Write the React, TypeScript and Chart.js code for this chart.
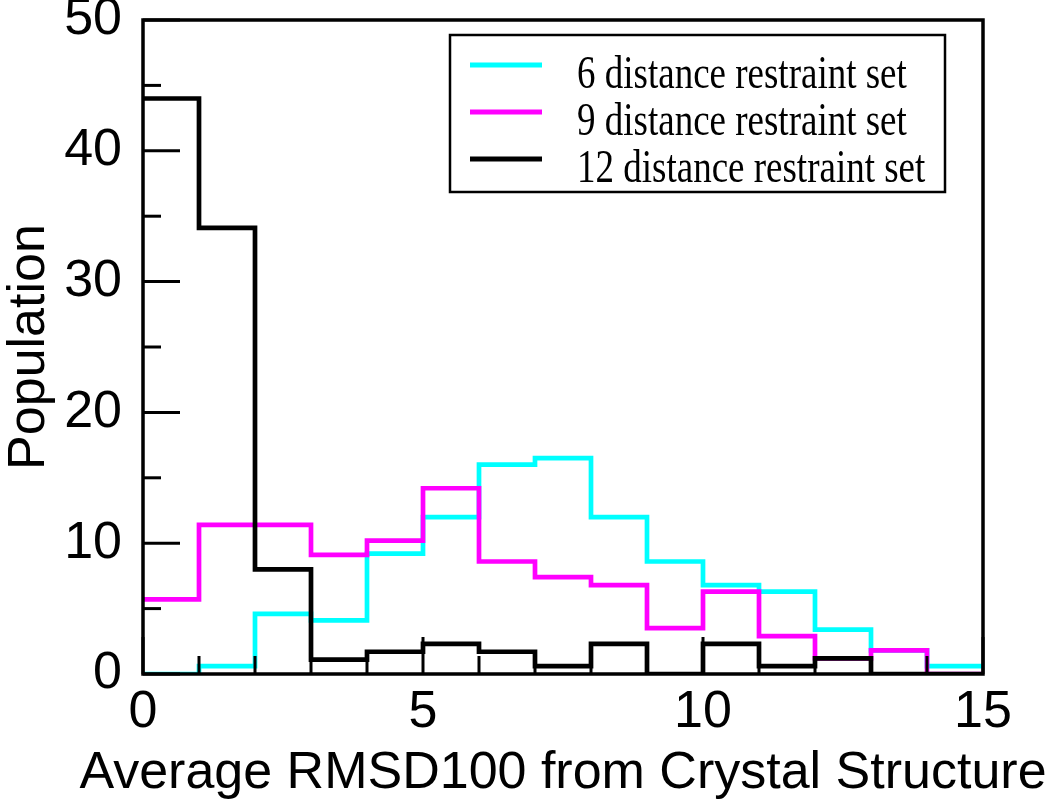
import React, { useEffect, useRef } from "react";
import { Chart, registerables } from "chart.js";

Chart.register(...registerables);

// Histogram bins (left edges) and last right edge
const binStarts = [0, 1, 2, 3, 4, 5, 6, 7, 8, 9, 10, 11, 12, 13, 14];
const binEnd = 15;

// Populations per bin
const set6 = [0, 0.6, 4.6, 4.1, 9.2, 12.0, 16.0, 16.5, 12.0, 8.6, 6.8, 6.3, 3.4, 1.8, 0.6];
const set9 = [5.7, 11.4, 11.4, 9.1, 10.2, 14.2, 8.6, 7.4, 6.8, 3.5, 6.3, 2.9, 1.2, 1.8, 0];
const set12 = [44, 34.1, 8, 1.1, 1.7, 2.3, 1.7, 0.6, 2.3, 0, 2.3, 0.6, 1.2, 0, 0];

const seriesLabels = ["6 distance restraint set", "9 distance restraint set", "12 distance restraint set"];
const seriesColors = ["#00FFFF", "#FF00FF", "#000000"];

// Axis ticks and titles
const xMajorTicks = [0, 5, 10, 15];
const xMinorStep = 1;
const yMajorTicks = [0, 10, 20, 30, 40, 50];
const yMinorStep = 5;
const xTitle = "Average RMSD100 from Crystal Structure";
const yTitle = "Population";

const SANS = "'Liberation Sans', Arial, Helvetica, sans-serif";
const SERIF = "'Liberation Serif', 'Times New Roman', serif";

const toPoints = (vals: number[]) => [
  ...binStarts.map((x, i) => ({ x, y: vals[i] })),
  { x: binEnd, y: vals[vals.length - 1] },
];

const framePlugin = {
  id: "frameTicks",
  afterDatasetsDraw(chart: any) {
    const { ctx, chartArea: a, scales } = chart;
    const x = scales.x;
    const y = scales.y;
    ctx.save();
    ctx.strokeStyle = "#000";
    ctx.lineCap = "butt";
    ctx.lineWidth = 3;
    const xMax = xMajorTicks[xMajorTicks.length - 1];
    for (let v = xMajorTicks[0]; v <= xMax; v += xMinorStep) {
      const px = x.getPixelForValue(v);
      const len = xMajorTicks.includes(v) ? 37 : 18;
      ctx.beginPath();
      ctx.moveTo(px, a.bottom);
      ctx.lineTo(px, a.bottom - len);
      ctx.stroke();
    }
    const yMax = yMajorTicks[yMajorTicks.length - 1];
    for (let v = yMajorTicks[0]; v <= yMax; v += yMinorStep) {
      const py = y.getPixelForValue(v);
      const len = yMajorTicks.includes(v) ? 37 : 18;
      ctx.beginPath();
      ctx.moveTo(a.left, py);
      ctx.lineTo(a.left + len, py);
      ctx.stroke();
    }
    ctx.lineWidth = 3.5;
    ctx.strokeRect(a.left, a.top, a.right - a.left, a.bottom - a.top);
    ctx.restore();
  },
};

const xTitlePlugin = {
  id: "xTitle",
  afterDraw(chart: any) {
    const { ctx, chartArea: a } = chart;
    ctx.save();
    ctx.fillStyle = "#000";
    ctx.font = `52px ${SANS}`;
    ctx.textAlign = "center";
    ctx.textBaseline = "alphabetic";
    ctx.fillText(xTitle, (a.left + a.right) / 2, 788);
    ctx.restore();
  },
};

const legendPlugin = {
  id: "boxLegend",
  afterDraw(chart: any) {
    const { ctx } = chart;
    const bx = 450, by = 35, bw = 495, bh = 157;
    ctx.save();
    ctx.fillStyle = "#fff";
    ctx.fillRect(bx, by, bw, bh);
    ctx.strokeStyle = "#000";
    ctx.lineWidth = 2.5;
    ctx.strokeRect(bx, by, bw, bh);
    chart.data.datasets.forEach((ds: any, i: number) => {
      const ly = 65 + i * 47;
      ctx.strokeStyle = ds.borderColor;
      ctx.lineWidth = 5;
      ctx.beginPath();
      ctx.moveTo(470, ly);
      ctx.lineTo(542, ly);
      ctx.stroke();
      ctx.save();
      ctx.translate(577, ly + 23);
      ctx.scale(1, 1.27);
      ctx.fillStyle = "#000";
      ctx.font = `37px ${SERIF}`;
      ctx.textBaseline = "alphabetic";
      ctx.textAlign = "left";
      ctx.fillText(ds.label, 0, 0);
      ctx.restore();
    });
    ctx.restore();
  },
};

export default function App() {
  const ref = useRef<HTMLCanvasElement>(null);
  useEffect(() => {
    if (!ref.current) return;
    const datasets = [set6, set9, set12].map((vals, i) => ({
      label: seriesLabels[i],
      data: toPoints(vals),
      borderColor: seriesColors[i],
      backgroundColor: seriesColors[i],
      borderWidth: 4.7,
      stepped: true,
      fill: false,
      pointRadius: 0,
      borderCapStyle: "butt",
      borderJoinStyle: "miter",
      order: 2 - i,
    }));
    const chart = new Chart(ref.current, {
      type: "line",
      data: { datasets } as any,
      options: {
        responsive: false,
        animation: false,
        devicePixelRatio: 1,
        layout: { padding: { left: 0, top: 20, right: 67, bottom: 0 } },
        plugins: { legend: { display: false }, tooltip: { enabled: false } },
        scales: {
          x: {
            type: "linear",
            min: 0,
            max: 15,
            afterBuildTicks: (s: any) => {
              s.ticks = xMajorTicks.map((v) => ({ value: v }));
            },
            afterFit: (s: any) => {
              s.height = 127;
              s.paddingLeft = 0;
              s.paddingRight = 0;
            },
            ticks: {
              font: { family: SANS, size: 52 },
              color: "#000",
              padding: 7,
              maxRotation: 0,
              autoSkip: false,
            },
            grid: { display: false, drawTicks: false },
            border: { display: false },
            title: { display: false },
          },
          y: {
            type: "linear",
            min: 0,
            max: 50,
            afterBuildTicks: (s: any) => {
              s.ticks = yMajorTicks.map((v) => ({ value: v }));
            },
            afterFit: (s: any) => {
              s.width = 143;
              s.paddingTop = 0;
              s.paddingBottom = 0;
            },
            ticks: {
              font: { family: SANS, size: 52 },
              color: "#000",
              padding: 21,
              autoSkip: false,
            },
            grid: { display: false, drawTicks: false },
            border: { display: false },
            title: {
              display: true,
              text: yTitle,
              font: { family: SANS, size: 52, lineHeight: 1 },
              color: "#000",
              padding: { top: 4, bottom: 0 },
            },
          },
        },
      } as any,
      plugins: [framePlugin, xTitlePlugin, legendPlugin],
    });
    return () => chart.destroy();
  }, []);
  return (
    <div style={{ position: "absolute", left: 0, top: 0, width: 1050, height: 801, background: "#fff" }}>
      <canvas ref={ref} width={1050} height={801} style={{ display: "block" }} />
    </div>
  );
}
